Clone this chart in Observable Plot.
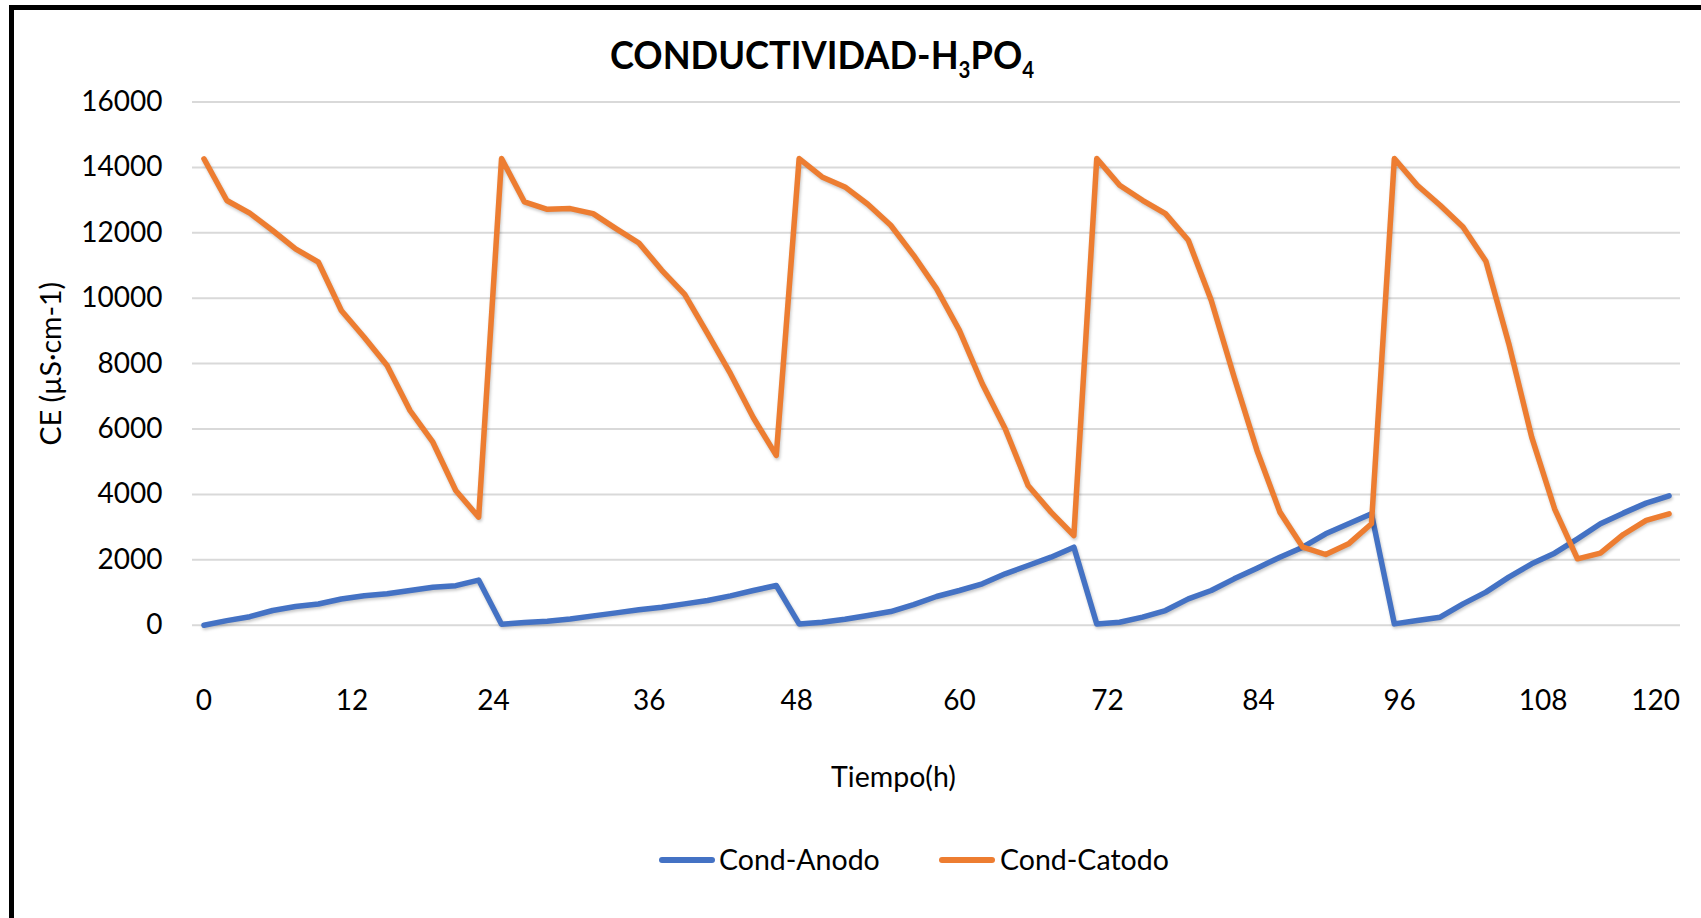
<!DOCTYPE html>
<html><head><meta charset="utf-8">
<script src="https://cdn.jsdelivr.net/npm/d3@7"></script>
<script src="https://cdn.jsdelivr.net/npm/@observablehq/plot@0.6"></script>
<style>
body{margin:0;background:#fff;}
#wrap{position:relative;width:1701px;height:918px;overflow:hidden;background:#fff;font-family:Lato,sans-serif;}
#wrap svg{position:absolute;left:0;top:0;}
.bt{position:absolute;left:9px;top:5px;width:1692px;height:5px;background:#000;}
.bl{position:absolute;left:9px;top:5px;width:5px;height:913px;background:#000;}
#title{position:absolute;top:35px;left:822px;transform:translateX(-50%) scaleX(0.93);font-family:Lato;font-weight:bold;font-size:39px;line-height:1;white-space:nowrap;color:#000}
#title sub{font-size:22px;vertical-align:-9px;line-height:0}
.sw{position:absolute;height:6px;border-radius:3px;top:857px}
.tx{position:absolute;top:845px;font-family:Lato;font-size:28.5px;line-height:1;color:#000;white-space:nowrap}
</style></head>
<body>
<div id="wrap">
  <div id="chart"></div>
  <div class="bt"></div><div class="bl"></div>
  <div id="title">CONDUCTIVIDAD-H<sub>3</sub>PO<sub>4</sub></div>
  <div class="sw" style="left:659px;width:56px;background:#4472C4"></div>
  <div class="tx" style="left:719px">Cond-Anodo</div>
  <div class="sw" style="left:939px;width:56px;background:#ED7D31"></div>
  <div class="tx" style="left:1000px">Cond-Catodo</div>
</div>
<script>
// Cond-Anodo (µS/cm), one value per sampling point (65 points)
const anodo = [
  0, 140, 260, 450, 570, 650, 800, 900, 960, 1060, 1160, 1210, 1380,
  30, 80, 120, 190, 285, 377, 470, 550, 653, 755, 898, 1061, 1214,
  40, 90, 184, 296, 418, 632, 877, 1061, 1265, 1571, 1826, 2081, 2387,
  40, 90, 245, 449, 806, 1061, 1418, 1744, 2081, 2387, 2795, 3101, 3407,
  40, 143, 245, 653, 1010, 1469, 1877, 2203, 2642, 3101, 3427, 3733, 3958
];
// Cond-Catodo (µS/cm)
const catodo = [
  14263, 12988, 12600, 12070, 11510, 11100, 9624, 8808, 7942, 6566, 5596, 4119, 3303,
  14270, 12944, 12720, 12740, 12587, 12128, 11689, 10853, 10118, 8915, 7691, 6344, 5192,
  14270, 13709, 13403, 12872, 12230, 11312, 10292, 9017, 7385, 6008, 4274, 3458, 2744,
  14270, 13454, 12995, 12587, 11771, 9935, 7589, 5345, 3458, 2387, 2162, 2489, 3101,
  14270, 13454, 12842, 12179, 11128, 8609, 5753, 3560, 2030, 2203, 2774, 3203, 3407
];
// category-axis tick labels and where they fall (in sample-index units)
const tickLabels = ["0", "12", "24", "36", "48", "60", "72", "84", "96", "108", "120"];
const tickPositions = [0, 6.47, 12.65, 19.45, 25.89, 33.0, 39.47, 46.07, 52.23, 58.5, 63.41];
const yTicks = [0, 2000, 4000, 6000, 8000, 10000, 12000, 14000, 16000];

const rows = anodo.map((a, i) => ({i, anodo: a, catodo: catodo[i]}));

const chart = Plot.plot({
  width: 1701, height: 918,
  marginLeft: 192, marginRight: 21, marginTop: 101.5, marginBottom: 293.3,
  x: {domain: [-0.5, 64.5], axis: null},
  y: {domain: [0, 16000], axis: null},
  style: {fontFamily: "Lato", background: "transparent", overflow: "visible", color: "#000"},
  marks: [
    Plot.ruleY(yTicks, {stroke: "#d9d9d9", strokeWidth: 2}),
    Plot.text(yTicks, {y: d => d, text: d => String(d), frameAnchor: "left", textAnchor: "end", dx: -30, fontSize: 28, lineAnchor: "middle"}),
    Plot.text(tickLabels, {x: (d, i) => tickPositions[i], text: d => d, frameAnchor: "bottom", dy: 76, fontSize: 28, lineAnchor: "middle"}),
    Plot.text(["Tiempo(h)"], {frameAnchor: "bottom", dx: -43, dy: 152.5, fontSize: 28.5, lineAnchor: "middle"}),
    Plot.text(["CE (µS·cm-1)"], {frameAnchor: "left", textAnchor: "middle", rotate: -90, dx: -140.5, fontSize: 28.5, lineAnchor: "middle"}),
    Plot.line(rows, {x: "i", y: "anodo", stroke: "#4472C4", strokeWidth: 5.5, strokeLinejoin: "round", strokeLinecap: "round"}),
    Plot.line(rows, {x: "i", y: "catodo", stroke: "#ED7D31", strokeWidth: 5.5, strokeLinejoin: "round", strokeLinecap: "round"})
  ]
});
chart.querySelectorAll('g[aria-label="line"]').forEach(g => {
  g.style.filter = "drop-shadow(1px 2px 1.5px rgba(0,0,0,0.22))";
});
document.getElementById("chart").appendChild(chart);
</script>
</body></html>
